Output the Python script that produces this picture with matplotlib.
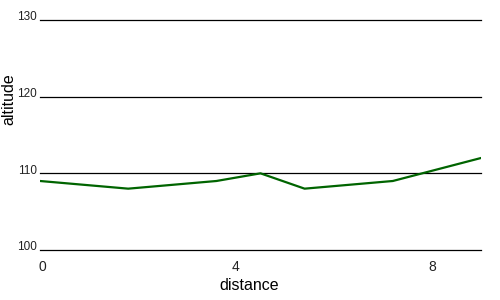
import matplotlib
matplotlib.use('Agg')
import matplotlib.pyplot as plt
import matplotlib.transforms as mtransforms

plt.rcParams['font.family'] = ['Liberation Sans', 'DejaVu Sans']

# datos del perfil
distancia = [0, 1.8, 3.6, 4.5, 5.4, 7.2, 9]
altitud = [109, 108, 109, 110, 108, 109, 112]
y_ticks = [100, 110, 120, 130]
x_ticks = [0, 4, 8]

fig = plt.figure(figsize=(5, 3), dpi=100)
ax = fig.add_axes([0.08, 0.1667, 0.882, 0.7666])

for y in y_ticks:
    ax.axhline(y, color='black', linewidth=0.9, zorder=1, clip_on=False)

ax.plot(distancia, altitud, color='#006400', linewidth=1.6, zorder=2)

ax.set_xlim(0, 9)
ax.set_ylim(100, 130)
ax.set_yticks(y_ticks)
ax.set_xticks(x_ticks)
ax.tick_params(axis='y', length=0, labelsize=8.5, pad=2, colors='#222222')
ax.tick_params(axis='x', length=0, labelsize=10, pad=7, colors='#222222')

# subir un poco las etiquetas del eje y
off = mtransforms.ScaledTranslation(0, 3 / 72, fig.dpi_scale_trans)
for lbl in ax.get_yticklabels():
    lbl.set_transform(lbl.get_transform() + off)
# el "0" va un poco a la derecha
ax.get_xticklabels()[0].set_transform(
    ax.get_xticklabels()[0].get_transform()
    + mtransforms.ScaledTranslation(2 / 72, 0, fig.dpi_scale_trans))

for s in ax.spines.values():
    s.set_visible(False)

fig.text(249 / 500, 1 - 285 / 300, 'distance', fontsize=11.5, ha='center', va='center')
fig.text(9 / 500, 1 - 99 / 300, 'altitude', fontsize=11.5, ha='center', va='center',
         rotation=90)

plt.savefig('out.png', dpi=100)
